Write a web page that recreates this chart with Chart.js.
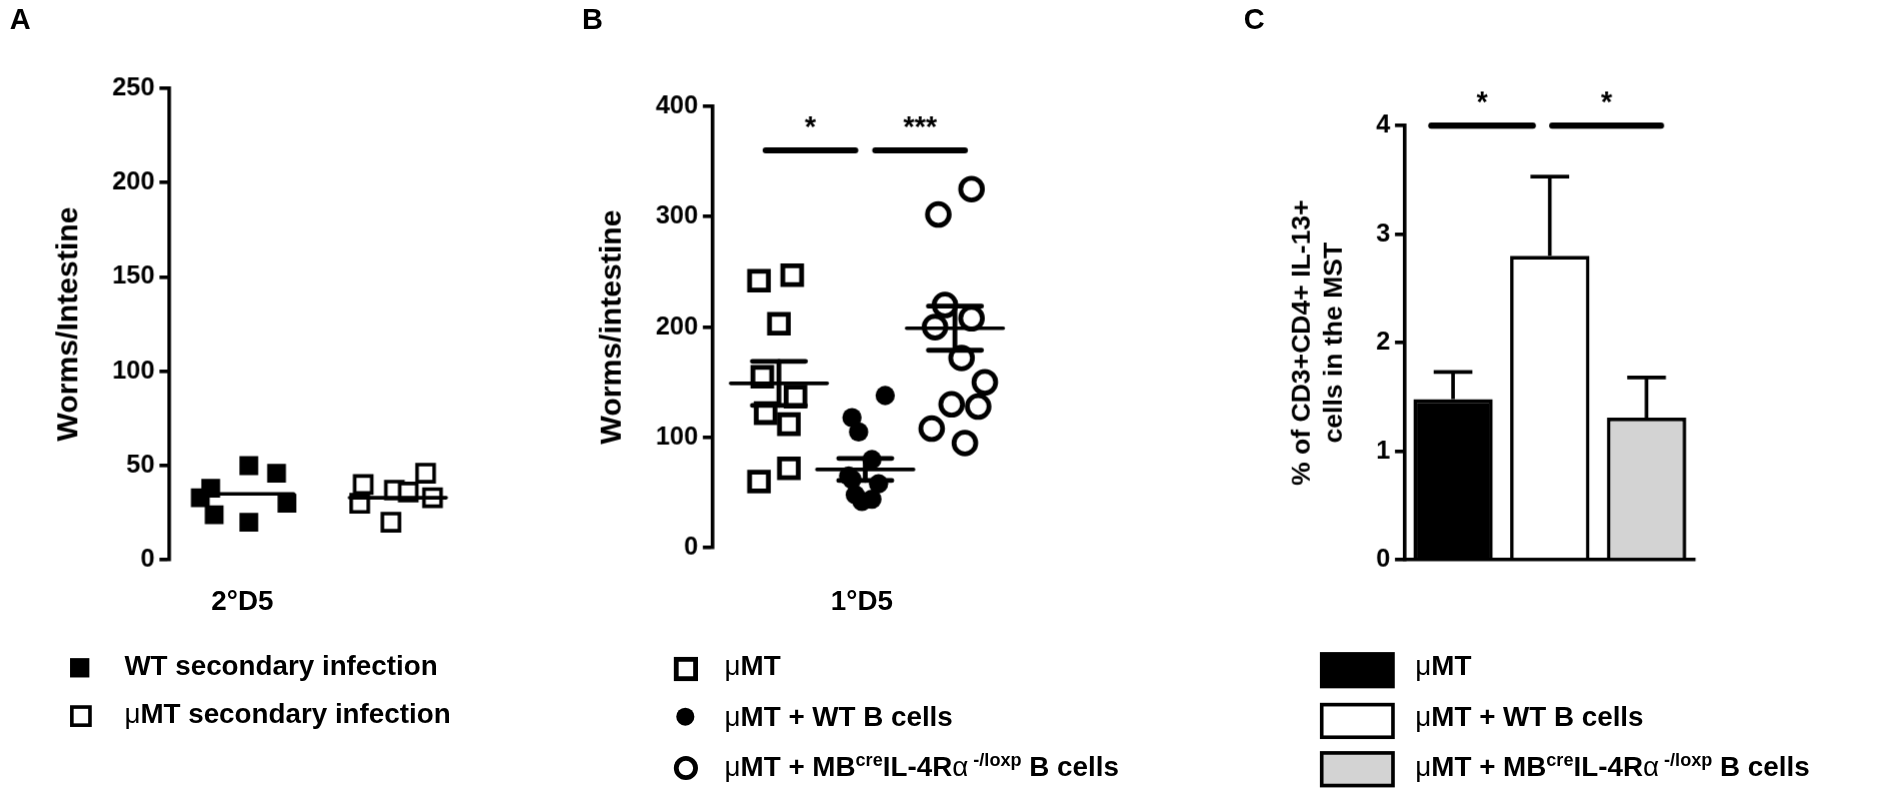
<!DOCTYPE html>
<html><head><meta charset="utf-8">
<script src="https://cdn.jsdelivr.net/npm/chart.js@4"></script>
<style>
body{margin:0;background:#fff;width:1896px;height:800px;position:relative;font-family:"Liberation Sans",Arial,sans-serif;font-weight:bold;overflow:hidden}
#w{position:absolute;left:0;top:0;width:1570px;height:662px;transform:scale(1.2076);transform-origin:0 0}
canvas{position:absolute}
.t{position:absolute;font-weight:bold;color:#000;white-space:nowrap}
.lab{font-size:24px}
.leg{font-size:23px}
.m{position:absolute;box-sizing:border-box}
</style></head><body><div id="w">
<div class="t lab" style="left:8px;top:2px">A</div>
<div class="t lab" style="left:482px;top:2px">B</div>
<div class="t lab" style="left:1030px;top:2px">C</div>
<canvas id="a" width="400" height="440" style="left:40px;top:40px"></canvas>
<canvas id="b" width="390" height="430" style="left:490px;top:40px"></canvas>
<canvas id="c" width="350" height="420" style="left:1063px;top:60px"></canvas>
<div class="t leg" style="left:175px;top:484px">2°D5</div>
<div class="t leg" style="left:688px;top:484px">1°D5</div>

<div class="m" style="left:58px;top:545px;width:16px;height:16px;background:#000"></div>
<div class="t leg" style="left:103px;top:538px">WT secondary infection</div>
<div class="m" style="left:58px;top:584px;width:18px;height:18px;border:3px solid #000"></div>
<div class="t leg" style="left:103px;top:578px"><span style="font-weight:normal">μ</span>MT secondary infection</div>

<div class="m" style="left:558px;top:544px;width:20px;height:20px;border:4px solid #000"></div>
<div class="t leg" style="left:600px;top:538px"><span style="font-weight:normal">μ</span>MT</div>
<div class="m" style="left:560px;top:586px;width:15px;height:15px;border-radius:50%;background:#000"></div>
<div class="t leg" style="left:600px;top:580px"><span style="font-weight:normal">μ</span>MT + WT B cells</div>
<div class="m" style="left:558px;top:626px;width:20px;height:20px;border-radius:50%;border:4px solid #000"></div>
<div class="t leg" style="left:600px;top:620px"><span style="font-weight:normal">μ</span>MT + MB<sup style="font-size:15px">cre</sup>IL-4R<span style="font-weight:normal">α</span><sup style="font-size:15px"> -/loxp</sup> B cells</div>

<div class="m" style="left:1093px;top:540px;width:62px;height:30px;background:#000"></div>
<div class="t leg" style="left:1172px;top:538px"><span style="font-weight:normal">μ</span>MT</div>
<div class="m" style="left:1093px;top:582px;width:62px;height:30px;border:3px solid #000;background:#fff"></div>
<div class="t leg" style="left:1172px;top:580px"><span style="font-weight:normal">μ</span>MT + WT B cells</div>
<div class="m" style="left:1093px;top:622px;width:62px;height:30px;border:3px solid #000;background:#d3d3d3"></div>
<div class="t leg" style="left:1172px;top:620px"><span style="font-weight:normal">μ</span>MT + MB<sup style="font-size:15px">cre</sup>IL-4R<span style="font-weight:normal">α</span><sup style="font-size:15px"> -/loxp</sup> B cells</div>
</div>
<script>
// Panel A
const aWTx = [1.3,2.3,3.1,2.3,1.2,3.4,0.9];
const aWTy = [24,50,46,20,38,30,33];
const aMTx = [5.6,6.5,7.4,6.4,5.5,7.6,6.9];
const aMTy = [40,37,46,20,30,33,36];
const aMeans = [35,33];
const aMeanX = [2.2,6.6];
const aTicks = [0,50,100,150,200,250];
// Panel B
const bMTx = [1.4,2.4,2.0,1.5,2.5,1.6,2.3,1.4,2.3];
const bMTy = [242,247,203,155,137,122,112,60,72];
const bWTx = [5.2,4.2,4.4,4.8,4.1,5.0,4.3,4.8,4.5,4.2];
const bWTy = [138,118,105,80,65,58,48,44,42,62];
const bMBx = [7.8,6.8,7.0,7.8,6.7,7.5,8.2,6.6,7.2,8.0,7.6];
const bMBy = [325,302,220,208,200,172,150,108,130,128,95];
const bMean = [149,71,199];
const bSem = [20,10,20];
const bMeanX = [2.0,4.6,7.3];
const bSig = [{x1:1.6,x2:4.3,y:360,t:'*'},{x1:4.9,x2:7.6,y:360,t:'***'}];
const bTicks = [0,100,200,300,400];
// Panel C
const cCats = ['μMT','μMT + WT B cells','μMT + MBcreIL-4Rα-/loxp B cells'];
const cVals = [1.48,2.8,1.31];
const cSem = [0.25,0.73,0.37];
const cSig = [{a:0,b:1,o1:-18,o2:-14,y:4.0,t:'*'},{a:1,b:2,o1:2,o2:12,y:4.0,t:'*'}];
const cTicks = [0,1,2,3,4];

const DPR = 1.2076*(window.devicePixelRatio||1);
const F = "'Liberation Sans', Arial, sans-serif";
function yAx(min,max,step,title,ts){
  return {min,max,ticks:{stepSize:step,color:'#000',font:{family:F,size:21,weight:'bold'},padding:4},
    grid:{drawOnChartArea:false,tickLength:8,color:'#000',lineWidth:3},
    border:{color:'#000',width:3},
    title:{display:true,text:title,color:'#000',font:{family:F,size:ts,weight:'bold'},padding:2},
    afterFit(s){s.width=100;}};
}
const meanPlugin = {id:'mp',afterDatasetsDraw(ch,args,o){
  const c=ch.ctx,x=ch.scales.x,y=ch.scales.y;c.save();c.strokeStyle='#000';c.lineCap='round';
  (o.means||[]).forEach(m=>{
    c.lineWidth=3;c.beginPath();c.moveTo(x.getPixelForValue(m.x)-40,y.getPixelForValue(m.m));c.lineTo(x.getPixelForValue(m.x)+40,y.getPixelForValue(m.m));c.stroke();
    if(m.s){c.lineWidth=4;const px=x.getPixelForValue(m.x);
      c.beginPath();c.moveTo(px,y.getPixelForValue(m.m-m.s));c.lineTo(px,y.getPixelForValue(m.m+m.s));c.stroke();
      [m.m-m.s,m.m+m.s].forEach(v=>{c.beginPath();c.moveTo(px-22,y.getPixelForValue(v));c.lineTo(px+22,y.getPixelForValue(v));c.stroke();});}
  });
  (o.sig||[]).forEach(s=>{
    const x1=s.px1!==undefined?s.px1:x.getPixelForValue(s.x1),x2=s.px2!==undefined?s.px2:x.getPixelForValue(s.x2),py=y.getPixelForValue(s.y);
    c.lineWidth=5;c.beginPath();c.moveTo(x1,py);c.lineTo(x2,py);c.stroke();
    c.fillStyle='#000';c.font='bold 24px '+F;c.textAlign='center';c.fillText(s.t,(x1+x2)/2,py-12);
  });
  c.restore();}};
const barErr = {id:'be',afterDatasetsDraw(ch){
  const c=ch.ctx,y=ch.scales.y,meta=ch.getDatasetMeta(0);c.save();c.strokeStyle='#000';c.lineWidth=3;
  meta.data.forEach((b,i)=>{const t=y.getPixelForValue(cVals[i]+cSem[i]);
    c.beginPath();c.moveTo(b.x,b.y);c.lineTo(b.x,t);c.moveTo(b.x-16,t);c.lineTo(b.x+16,t);c.stroke();});
  c.restore();}};
const xh = {type:'linear',min:0,max:10,display:false};
function pts(xs,ys){return xs.map((v,i)=>({x:v,y:ys[i]}));}
const common = {responsive:false,animation:false,devicePixelRatio:DPR,plugins:{legend:{display:false},tooltip:{enabled:false}}};

new Chart(document.getElementById('a'),{type:'scatter',
 data:{datasets:[
  {data:pts(aWTx,aWTy),pointStyle:'rect',pointRadius:11,backgroundColor:'#000',borderColor:'#000',borderWidth:0},
  {data:pts(aMTx,aMTy),pointStyle:'rect',pointRadius:10,backgroundColor:'#fff',borderColor:'#000',borderWidth:3}]},
 options:{...common,layout:{padding:{top:33,bottom:10,right:10}},scales:{x:xh,y:yAx(0,250,50,'Worms/Intestine',25)},
  plugins:{...common.plugins,mp:{means:aMeans.map((m,i)=>({x:aMeanX[i],m}))}}},plugins:[meanPlugin]});

new Chart(document.getElementById('b'),{type:'scatter',
 data:{datasets:[
  {data:pts(bMTx,bMTy),pointStyle:'rect',pointRadius:11,backgroundColor:'#fff',borderColor:'#000',borderWidth:4},
  {data:pts(bWTx,bWTy),pointStyle:'circle',pointRadius:8,backgroundColor:'#000',borderColor:'#000',borderWidth:0},
  {data:pts(bMBx,bMBy),pointStyle:'circle',pointRadius:9,backgroundColor:'#fff',borderColor:'#000',borderWidth:4}]},
 options:{...common,layout:{padding:{top:48,bottom:0,right:10}},scales:{x:xh,y:yAx(0,400,100,'Worms/intestine',25)},
  plugins:{...common.plugins,mp:{means:bMean.map((m,i)=>({x:bMeanX[i],m,s:bSem[i]})),sig:bSig}}},plugins:[meanPlugin]});

const sigC = {id:'sc',afterDatasetsDraw(ch){const meta=ch.getDatasetMeta(0);
  ch.options.plugins.mp.sig=cSig.map(s=>({px1:meta.data[s.a].x+s.o1,px2:meta.data[s.b].x+s.o2,y:s.y,t:s.t}));}};
new Chart(document.getElementById('c'),{type:'bar',
 data:{labels:cCats,datasets:[{data:cVals,backgroundColor:['#000','#fff','#d3d3d3'],borderColor:'#000',borderWidth:3,barPercentage:0.82,categoryPercentage:1}]},
 options:{...common,layout:{padding:{top:44,bottom:8,right:10}},
  scales:{x:{ticks:{display:false},grid:{display:false},border:{color:'#000',width:3}},
   y:{...yAx(0,4,1,['% of CD3+CD4+ IL-13+','cells in the MST'],22)}},
  plugins:{...common.plugins,mp:{sig:[]}}},plugins:[barErr,sigC,meanPlugin]});
</script>
</body></html>
